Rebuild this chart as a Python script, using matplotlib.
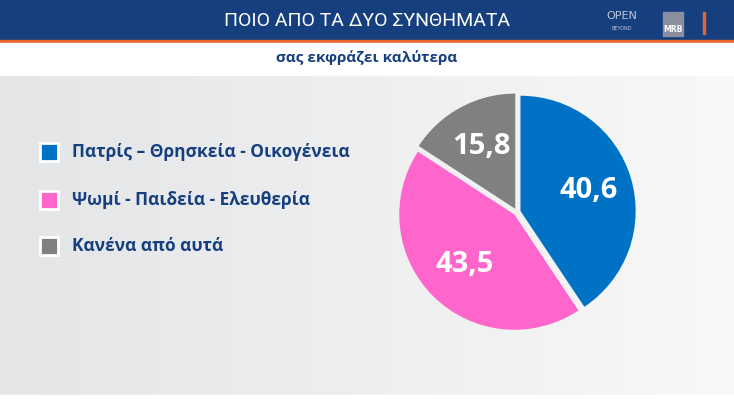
import matplotlib
matplotlib.use("Agg")
import matplotlib.pyplot as plt
import numpy as np
from matplotlib.patches import Rectangle

categories = ["Πατρίς – Θρησκεία - Οικογένεια", "Ψωμί - Παιδεία - Ελευθερία", "Κανένα από αυτά"]
values = [40.6, 43.5, 15.8]
labels = ["40,6", "43,5", "15,8"]
colors = ["#0072c6", "#ff66cc", "#808080"]

W, H = 734, 415
fig = plt.figure(figsize=(W/100, H/100), dpi=100)
bg = fig.add_axes([0, 0, 1, 1])
bg.set_xlim(0, W); bg.set_ylim(H, 0); bg.axis("off")
grad = np.linspace(0, 1, 200)
img = np.outer(np.ones(50), grad)
bg.imshow(img, extent=[0, W, 395, 75], cmap=matplotlib.colors.LinearSegmentedColormap.from_list("g", ["#e4e5e7", "#f8f8f8"]), aspect="auto")
bg.add_patch(Rectangle((0, 0), W, 40, color="#163f80"))
bg.add_patch(Rectangle((0, 40), W, 3, color="#e8642c"))
bg.add_patch(Rectangle((0, 43), W, 32, color="white"))
bg.add_patch(Rectangle((0, 395), W, 20, color="white"))
bg.set_xlim(0, W); bg.set_ylim(H, 0)
bg.text(367, 21, "ΠΟΙΟ ΑΠΟ ΤΑ ΔΥΟ ΣΥΝΘΗΜΑΤΑ", color="white", fontsize=14, ha="center", va="center", family="Roboto")
bg.text(367, 58, "σας εκφράζει καλύτερα", color="#163f80", fontsize=11, ha="center", va="center", weight="bold", family="Open Sans")
bg.text(622, 16, "OPEN", color="#c0c8d8", fontsize=8, ha="center", va="center")
bg.text(622, 29, "BEYOND", color="#c0c8d8", fontsize=3.5, ha="center", va="center")
bg.add_patch(Rectangle((663, 12), 20, 24, color="#8a8fa0"))
bg.text(673, 30, "MRB", color="white", fontsize=5.5, ha="center", va="center", weight="bold")
bg.add_patch(Rectangle((703, 12), 1.5, 22, color="#e8642c"))

ys = [152, 200, 246]
for c, cat, y in zip(colors, categories, ys):
    bg.add_patch(Rectangle((40, y-9), 18, 18, facecolor=c, edgecolor="white", lw=2))
    bg.text(72, y, cat, color="#163f80", fontsize=12.5, va="center", weight="bold", family="Open Sans")

ax = fig.add_axes([397/W, (H-332)/H, 240/W, 240/H])
wedges, _ = ax.pie(values, colors=colors, startangle=90, counterclock=False,
                   explode=[0.03, 0.03, 0.03], radius=0.96,
                   wedgeprops=dict(edgecolor="none"))
ax.set_xlim(-1, 1); ax.set_ylim(-1, 1); ax.set_aspect("auto")
for w, lab in zip(wedges, labels):
    ang = np.deg2rad((w.theta1 + w.theta2) / 2)
    r = 0.62
    ax.text(r*np.cos(ang), r*np.sin(ang), lab, color="white", fontsize=21, weight="bold",
            ha="center", va="center", family="Open Sans")
fig.savefig("out.png", dpi=100)
